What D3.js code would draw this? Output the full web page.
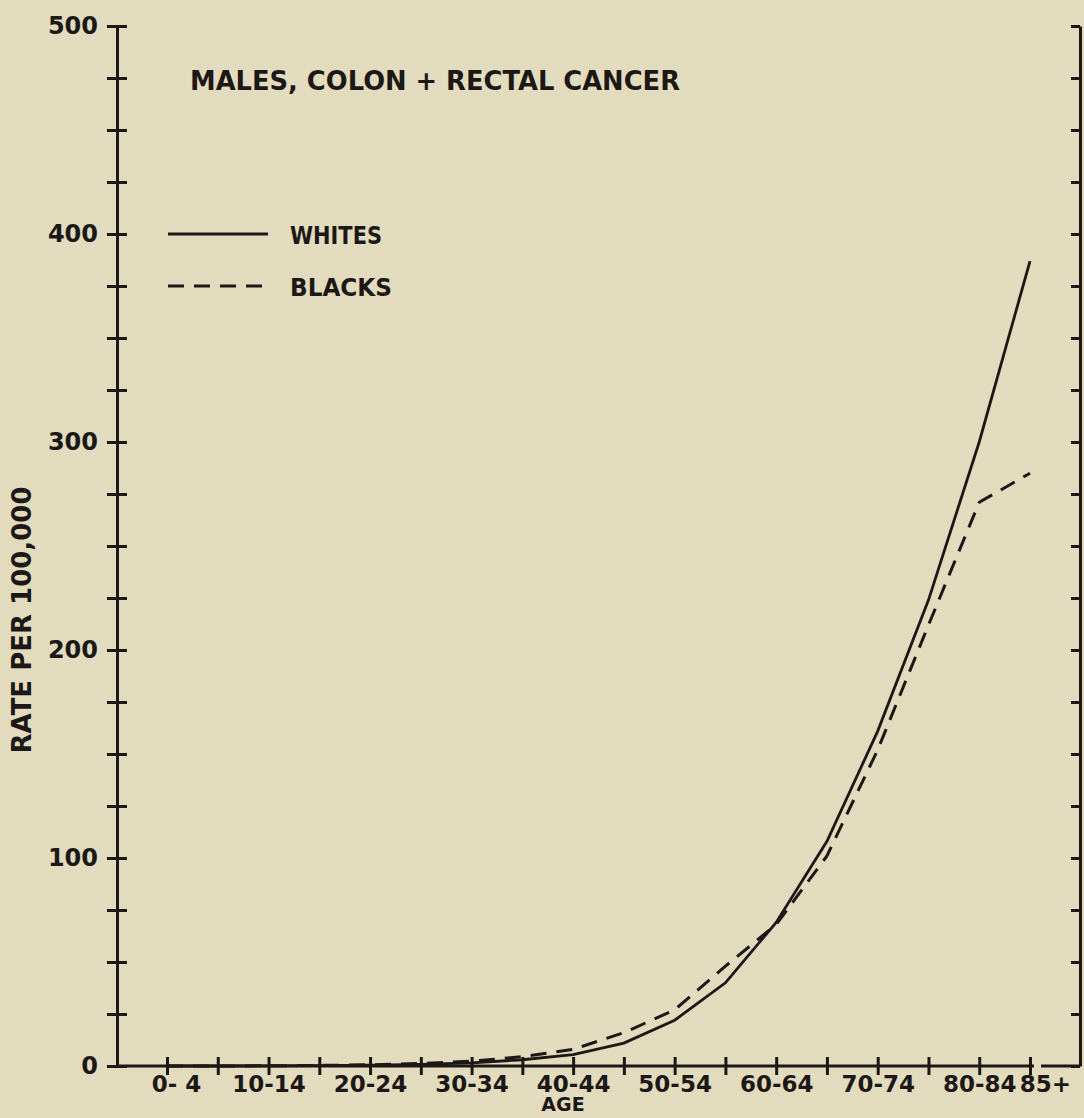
<!DOCTYPE html>
<html>
<head>
<meta charset="utf-8">
<script src="https://cdn.jsdelivr.net/npm/d3@7"></script>
<style>
  body { margin: 0; background: #e2dbbd; }
  svg { display: block; }
  text { font-family: "DejaVu Sans", sans-serif; font-weight: bold; fill: #1c1816; }
</style>
</head>
<body>
<script>
// data
var ageGroups = ["0- 4","5- 9","10-14","15-19","20-24","25-29","30-34","35-39","40-44",
                 "45-49","50-54","55-59","60-64","65-69","70-74","75-79","80-84","85+"]
var shownLabels = ["0- 4","10-14","20-24","30-34","40-44","50-54","60-64","70-74","80-84","85+"]
var whites = [0, 0, 0.1, 0.2, 0.4, 0.8, 1.5, 3, 5.5, 11, 22, 40, 69, 108, 161, 224, 300, 387]
var blacks = [0, 0, 0.1, 0.3, 0.6, 1.2, 2.3, 4.5, 8, 16, 27, 48, 68, 101, 152, 212, 271, 285]
var yTicks = [0, 100, 200, 300, 400, 500]

var screen = {width: 1084, height: 1118}
var ink = "#1c1816"

var svg = d3.select("body").append("svg")
  .attr('width', screen.width)
  .attr('height', screen.height)

//scales
var xScale = d3.scalePoint()
  .domain(ageGroups)
  .range([167, 1030])
var yScale = d3.scaleLinear()
  .domain([0, 500])
  .range([1066, 26])

// left axis, ticks crossing the line
var yAxis = d3.axisLeft(yScale)
  .tickValues(d3.range(0, 501, 25))
  .tickFormat(function(d){ return yTicks.indexOf(d) >= 0 ? d : "" })
  .tickSize(10)
  .tickSizeOuter(0)
  .tickPadding(8)
var gy = svg.append("g")
  .attr('transform', 'translate(117,0)')
  .call(yAxis)
gy.selectAll(".tick line").attr('x2', -10).attr('x1', 10)
gy.selectAll(".tick text").attr('font-size', 24).attr('dx', -1)

// right axis, ticks inward
var yAxisR = d3.axisLeft(yScale)
  .tickValues(d3.range(0, 501, 25))
  .tickFormat("")
  .tickSize(9)
  .tickSizeOuter(0)
svg.append("g")
  .attr('transform', 'translate(1080,0)')
  .call(yAxisR)

// bottom axis
var xAxis = d3.axisBottom(xScale)
  .tickFormat(function(d){ return shownLabels.indexOf(d) >= 0 ? d : "" })
  .tickSize(9)
  .tickSizeOuter(0)
var gx = svg.append("g")
  .attr('transform', 'translate(0,1066)')
  .call(xAxis)
gx.select(".domain").remove()
gx.selectAll(".tick line").attr('y1', -9).attr('y2', 9)
gx.selectAll(".tick text")
  .attr('font-size', 23)
  .attr('y', 10)
  .attr('dx', function(d){
    if (d == "0- 4") return 9
    if (d == "85+") return 15
    return 0
  })

// baseline, with the small break right of the last tick
svg.append("line")
  .attr('x1', 117).attr('x2', 1034)
  .attr('y1', yScale(0)).attr('y2', yScale(0))
svg.append("line")
  .attr('x1', 1041).attr('x2', 1080)
  .attr('y1', yScale(0)).attr('y2', yScale(0))

svg.selectAll(".domain, .tick line, line")
  .attr('stroke', ink)
  .attr('stroke-width', 3)
  .attr('fill', 'none')

// lines
var line = d3.line()
  .x(function(d, i){ return xScale(ageGroups[i]) })
  .y(function(d){ return yScale(d) })

svg.append("path")
  .datum(whites)
  .attr('d', line)
  .attr('fill', 'none')
  .attr('stroke', ink)
  .attr('stroke-width', 2.8)

svg.append("path")
  .datum(blacks)
  .attr('d', line)
  .attr('fill', 'none')
  .attr('stroke', ink)
  .attr('stroke-width', 3)
  .attr('stroke-dasharray', '16,10')

// title, legend, labels
svg.append("text")
  .attr('x', 190).attr('y', 90)
  .attr('font-size', 27)
  .attr('textLength', 490)
  .attr('lengthAdjust', 'spacingAndGlyphs')
  .text("MALES, COLON + RECTAL CANCER")

var legend = [{name: "WHITES", dash: null, y: 234, w: 92}, {name: "BLACKS", dash: "16,10", y: 286, w: 102}]
legend.forEach(function(l){
  svg.append("line")
    .attr('x1', 168).attr('x2', 268)
    .attr('y1', l.y).attr('y2', l.y)
    .attr('stroke', ink)
    .attr('stroke-width', 3)
    .attr('stroke-dasharray', l.dash)
  svg.append("text")
    .attr('x', 290).attr('y', l.y + 10)
    .attr('font-size', 25)
    .attr('textLength', l.w)
    .attr('lengthAdjust', 'spacingAndGlyphs')
    .text(l.name)
})

svg.append("text")
  .attr('transform', 'translate(31,620) rotate(-90)')
  .attr('text-anchor', 'middle')
  .attr('font-size', 26)
  .text("RATE PER 100,000")

svg.append("text")
  .attr('x', 563).attr('y', 1111)
  .attr('text-anchor', 'middle')
  .attr('font-size', 19)
  .text("AGE")
</script>
</body>
</html>
